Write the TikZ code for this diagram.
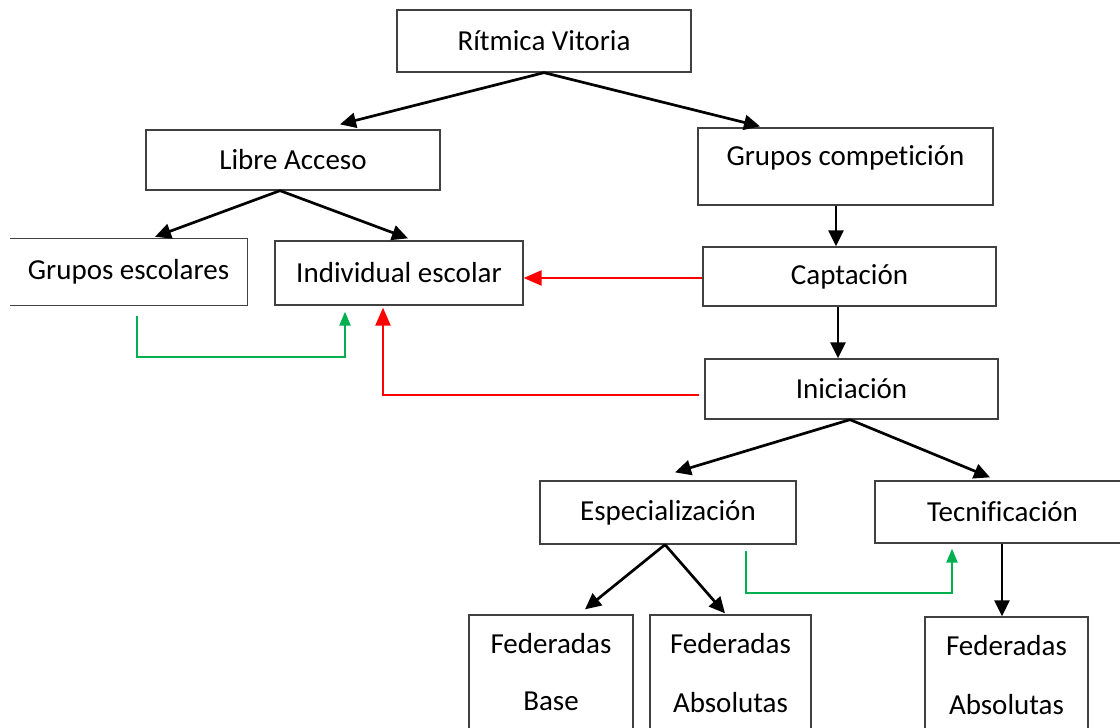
\documentclass[tikz,border=0pt]{standalone}
\usepackage{fontspec}
\setmainfont{Carlito}[Ligatures={NoCommon,NoContextual},RawFeature=-calt]
\usetikzlibrary{arrows.meta}
\definecolor{boxgray}{HTML}{404040}
\definecolor{mygreen}{HTML}{00B050}
\definecolor{myred}{HTML}{FF0000}
\begin{document}
\begin{tikzpicture}[x=1pt,y=-1pt,
  every node/.style={font=\fontsize{29}{34}\selectfont, inner sep=0pt},
  box/.style={draw=boxgray, line width=1.3pt, fill=white},
  nobox/.style={draw=none},
  txt/.style={},
  blackarr/.style={line width=2.7pt, -{Triangle[length=16pt,width=15pt]}},
  redarr/.style={draw=myred, line width=2.5pt, -{Triangle[length=18pt,width=15pt]}},
  greenarr/.style={draw=mygreen, line width=2.3pt, -{Triangle[length=14pt,width=11pt]}}
]
\useasboundingbox[fill=white] (0,0) rectangle (1120,728);

% boxes
\node[box, minimum width=294pt, minimum height=62pt] (rv) at (544,41) {Rítmica Vitoria};
\node[box, minimum width=294pt, minimum height=60pt] (la) at (293,160) {Libre Acceso};
\node[box, minimum width=295pt, minimum height=77pt] (gc) at (845.5,166.5) {};
\node[txt] (gct) at (845.5,158) {Grupos competi\kern0pt ción};
\node[nobox, minimum width=237pt, minimum height=66pt] (ge) at (128.5,272) {Grupos escolares};
\draw[boxgray, line width=1.3pt] (ge.north west) -- (ge.north east) -- (ge.south east) -- (ge.south west);
\node[box, minimum width=248pt, minimum height=64pt] (ie) at (399,273) {Individual escolar};
\node[box, minimum width=293pt, minimum height=59pt] (ca) at (849.5,276.5) {Captación};
\node[box, minimum width=293pt, minimum height=60pt] (in) at (851.5,389) {Iniciación};
\node[box, minimum width=256pt, minimum height=63pt] (es) at (668,512.5) {Especialización};
\node[box, minimum width=255pt, minimum height=62pt] (te) at (1002.5,512) {Tecnif\kern0pt icación};
\node[box, minimum width=164pt, minimum height=145pt] (fb) at (551,687.5) {};
\node[txt] (fbt1) at (551,644) {Federadas};
\node[txt] (fbt2) at (551,701) {Base};
\node[box, minimum width=161pt, minimum height=145pt] (fa) at (730.5,687.5) {};
\node[txt] (fat1) at (730.5,644) {Federadas};
\node[txt] (fat2) at (730.5,703) {Absolutas};
\node[box, minimum width=163pt, minimum height=143pt] (fc) at (1006.5,688.5) {};
\node[txt] (fct1) at (1006.5,646) {Federadas};
\node[txt] (fct2) at (1006.5,705) {Absolutas};

% black arrows
\draw[blackarr] (rv.south) -- ([xshift=47pt,yshift=5pt]la.north);
\draw[blackarr] (rv.south) -- ([xshift=-85.5pt,yshift=1pt]gc.north);
\draw[blackarr] ([xshift=-13pt]la.south) -- ([xshift=26.5pt,yshift=2pt]ge.north);
\draw[blackarr] ([xshift=-13pt]la.south) -- ([xshift=9pt,yshift=2pt]ie.north);
\draw[blackarr] ([xshift=-9.5pt]gc.south) -- ([xshift=-13.5pt]ca.north);
\draw[blackarr] ([xshift=-11.5pt]ca.south) -- ([xshift=-13.5pt]in.north);
\draw[blackarr] ([xshift=-1.5pt]in.south) -- ([xshift=7pt,yshift=8pt]es.north);
\draw[blackarr] ([xshift=-1.5pt]in.south) -- ([xshift=-12.5pt,yshift=3pt]te.north);
\draw[blackarr] ([xshift=-3pt]es.south) -- ([xshift=34pt,yshift=5pt]fb.north);
\draw[blackarr] ([xshift=-3pt]es.south) -- ([xshift=-5.5pt,yshift=1pt]fa.north);
\draw[blackarr] ([xshift=-0.5pt]te.south) -- ([xshift=-4.5pt]fc.north);

% red arrows
\draw[redarr] ([yshift=-1.5pt]ca.west) -- ([yshift=-1.5pt]ca.west -| ie.east);
\draw[redarr] ([xshift=-5pt,yshift=-6pt]in.west) -| ([xshift=-16pt,yshift=-2pt]ie.south);

% green arrows
\draw[greenarr] ([xshift=8.5pt,yshift=-11pt]ge.south) -- ++(0,41) -| ([xshift=-54pt,yshift=-6pt]ie.south);
\draw[greenarr] ([xshift=78pt,yshift=-6pt]es.south) -- ++(0,42) -| ([xshift=-50.5pt,yshift=-5pt]te.south);
\end{tikzpicture}
\end{document}
